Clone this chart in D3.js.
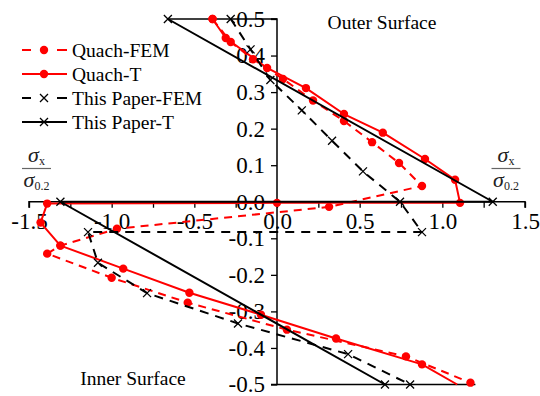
<!DOCTYPE html>
<html>
<head>
<meta charset="utf-8">
<script src="https://cdn.jsdelivr.net/npm/d3@7"></script>
<style>
  html, body { margin: 0; padding: 0; background: #fff; }
  svg { display: block; }
  text { font-family: "Liberation Serif", "Times New Roman", serif; }
</style>
</head>
<body>
<svg id="chart" width="540" height="396"></svg>
<script>
// Normalised stress sigma_x / sigma_0.2 (x) against position through the thickness (y)
const xTickValues = [-1.5, -1.25, -1.0, -0.75, -0.5, -0.25, 0, 0.25, 0.5, 0.75, 1.0, 1.25, 1.5];
const xTickLabels = ["-1.5", "", "-1.0", "", "-0.5", "", "0.0", "", "0.5", "", "1.0", "", "1.5"];
const yTickValues = [-0.5, -0.4, -0.3, -0.2, -0.1, 0, 0.1, 0.2, 0.3, 0.4, 0.5];
const yTickLabels = ["-0.5", "-0.4", "-0.3", "-0.2", "-0.1", "0.0", "0.1", "0.2", "0.3", "0.4", "0.5"];

const seriesNames = ["Quach-FEM", "Quach-T", "This Paper-FEM", "This Paper-T"];

const quachFEM = [
  [-0.39, 0.5], [-0.28, 0.437], [-0.145, 0.39], [0.036, 0.336], [0.218, 0.277],
  [0.405, 0.221], [0.575, 0.163], [0.738, 0.106], [0.877, 0.043], [0.315, -0.014],
  [-0.968, -0.074], [-1.31, -0.12], [-1.39, -0.142], [-1.0, -0.208], [-0.54, -0.276],
  [0.06, -0.35], [0.78, -0.423], [1.17, -0.495]
];
const quachT = [
  [-0.39, 0.5], [-0.31, 0.448], [-0.06, 0.366], [0.175, 0.311], [0.405, 0.24],
  [0.64, 0.189], [0.895, 0.117], [1.077, 0.06], [1.107, -0.003], [0, -0.003],
  [-1.39, -0.005], [-1.43, -0.057], [-1.31, -0.12], [-0.93, -0.183], [-0.53, -0.249],
  [-0.097, -0.309], [0.357, -0.374], [0.877, -0.445], [1.09, -0.5]
];
// the last Quach-T point closes the line at the inner face and carries no marker
const quachTMarked = quachT.slice(0, -1);
const paperFEM = [
  [-0.28, 0.5], [-0.16, 0.417], [-0.04, 0.333], [0.15, 0.25], [0.333, 0.167],
  [0.52, 0.083], [0.744, 0], [0.877, -0.083], [-1.143, -0.083], [-1.083, -0.167],
  [-0.786, -0.25], [-0.236, -0.333], [0.43, -0.417], [0.805, -0.5]
];
const paperT = [
  [-0.66, 0.5], [1.305, 0], [-1.31, 0], [0.653, -0.5]
];
// surface lines at the outer and inner faces
const outerFace = [[-0.66, 0.5], [0, 0.5]];
const innerFace = [[0, -0.5], [1.2, -0.5]];

const RED = "#ff0000", BLACK = "#000000";
const SERIF = '"Liberation Serif", "Times New Roman", serif';

const svg = d3.select("#chart");
const x = d3.scaleLinear().domain([-1.5, 1.5]).range([29, 525]);
const y = d3.scaleLinear().domain([-0.5, 0.5]).range([384.5, 19]);

// axes crossing at the origin
const xAxis = d3.axisBottom(x)
  .tickValues(xTickValues)
  .tickSize(6)
  .tickPadding(5)
  .tickFormat((d, i) => xTickLabels[i]);
const yAxis = d3.axisLeft(y)
  .tickValues(yTickValues)
  .tickSize(6)
  .tickPadding(6)
  .tickFormat((d, i) => yTickLabels[i]);

function styleAxis(g) {
  g.attr("font-family", SERIF).attr("font-size", 23);
  g.select(".domain").attr("stroke", BLACK).attr("stroke-width", 1.5);
  g.selectAll(".tick line").attr("stroke", BLACK).attr("stroke-width", 1.3);
  g.selectAll(".tick text")
    .attr("fill", BLACK)
    .attr("font-family", SERIF)
    .style("font-family", SERIF)
    .style("font-size", "23px");
}

svg.append("g").attr("transform", `translate(0,${y(0)})`).call(xAxis).call(styleAxis)
  .call(g => g.select(".domain").attr("d", `M${x(-1.5)},6V0H${x(1.5)}V6`));
svg.append("g").attr("transform", `translate(${x(0)},0)`).call(yAxis).call(styleAxis)
  .call(g => g.select(".domain").attr("d", `M-6,${y(0.5)}H0V${y(-0.5)}H-6`));

const line = d3.line().x(d => x(d[0])).y(d => y(d[1]));

// surface lines
[outerFace, innerFace].forEach(s => {
  svg.append("path").attr("d", line(s)).attr("fill", "none")
    .attr("stroke", BLACK).attr("stroke-width", 1.6);
});

function drawSeries(data, marked, color, dash, marker, width) {
  const g = svg.append("g");
  g.append("path").attr("d", line(data)).attr("fill", "none")
    .attr("stroke", color).attr("stroke-width", width)
    .attr("stroke-dasharray", dash || null)
    .attr("stroke-linejoin", "round");
  drawMarkers(g, marked.map(d => [x(d[0]), y(d[1])]), color, marker);
}

function drawMarkers(g, pts, color, marker) {
  if (marker === "dot") {
    g.selectAll("circle.m").data(pts).join("circle").attr("class", "m")
      .attr("cx", d => d[0]).attr("cy", d => d[1]).attr("r", 4.2).attr("fill", color);
  } else {
    const s = 4;
    g.selectAll("path.m").data(pts).join("path").attr("class", "m")
      .attr("d", d => `M${d[0]-s},${d[1]-s}L${d[0]+s},${d[1]+s}M${d[0]-s},${d[1]+s}L${d[0]+s},${d[1]-s}`)
      .attr("stroke", color).attr("stroke-width", 1.3).attr("fill", "none");
  }
}

drawSeries(quachFEM, quachFEM, RED, "8,6", "dot", 2);
drawSeries(quachT, quachTMarked, RED, null, "dot", 2);
drawSeries(paperFEM, paperFEM, BLACK, "9,7", "x", 2);
drawSeries(paperT, paperT, BLACK, null, "x", 2);

// legend
const legendStyles = [
  { color: RED, dash: true, marker: "dot" },
  { color: RED, dash: false, marker: "dot" },
  { color: BLACK, dash: true, marker: "x" },
  { color: BLACK, dash: false, marker: "x" }
];
const legend = svg.append("g");
seriesNames.forEach((name, i) => {
  const yy = 50 + i * 24;
  const st = legendStyles[i];
  const g = legend.append("g");
  if (st.dash) {
    g.append("path").attr("d", `M22,${yy}H31M57,${yy}H67`)
      .attr("stroke", st.color).attr("stroke-width", 2);
  } else {
    g.append("path").attr("d", `M22,${yy}H67`)
      .attr("stroke", st.color).attr("stroke-width", 2);
  }
  drawMarkers(g, [[44, yy]], st.color, st.marker);
  g.append("text").attr("x", 72).attr("y", yy + 7)
    .style("font-size", "19.5px").attr("fill", BLACK).text(name);
});

// surface annotations
svg.append("text").attr("x", 382).attr("y", 29).attr("text-anchor", "middle")
  .style("font-size", "19.5px").text("Outer Surface");
svg.append("text").attr("x", 133).attr("y", 385).attr("text-anchor", "middle")
  .style("font-size", "19.5px").text("Inner Surface");

// axis titles: sigma_x / sigma_0.2 on both sides
function stressTitle(cx) {
  const g = svg.append("g").attr("fill", "#222");
  const num = g.append("text").attr("x", cx).attr("y", 162).attr("text-anchor", "middle");
  num.append("tspan").style("font-style", "italic").style("font-size", "22px").text("σ");
  num.append("tspan").style("font-size", "12px").attr("dy", 3).text("x");
  g.append("line").attr("x1", cx - 14.5).attr("x2", cx + 14.5)
    .attr("y1", 168.5).attr("y2", 168.5).attr("stroke", "#666").attr("stroke-width", 1.2);
  const den = g.append("text").attr("x", cx).attr("y", 187).attr("text-anchor", "middle");
  den.append("tspan").style("font-style", "italic").style("font-size", "22px").text("σ");
  den.append("tspan").style("font-size", "12px").attr("dy", 3).text("0.2");
}
stressTitle(36.5);
stressTitle(506);
</script>
</body>
</html>
